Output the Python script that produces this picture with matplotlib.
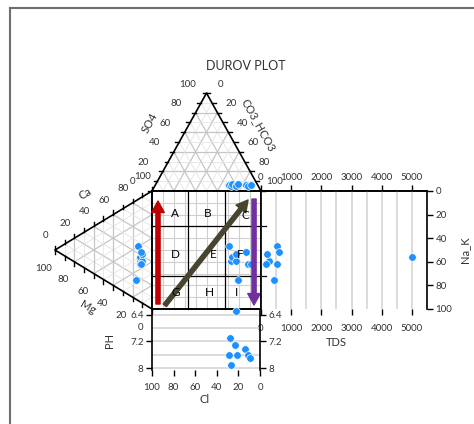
import numpy as np
import matplotlib.pyplot as plt
from matplotlib.lines import Line2D
from matplotlib.ticker import MultipleLocator

plt.rcParams['font.family'] = ['Lato', 'DejaVu Sans']
plt.rcParams['font.size'] = 7
plt.rcParams['xtick.labelcolor'] = '#333333'
plt.rcParams['ytick.labelcolor'] = '#333333'

# sample chemistry, % of meq
ca   = np.array([46, 35, 38, 36, 42, 16, 43, 32, 33])
mg   = np.array([14, 12, 12, 10, 10, 17, 11, 12, 11])
na_k = np.array([40, 53, 50, 54, 48, 67, 46, 56, 56])
so4  = np.array([6, 5, 7, 6, 5, 7, 6, 5, 6])
hco3 = np.array([68, 70, 70, 74, 75, 75, 83, 86, 88])
cl   = np.array([26, 25, 23, 20, 20, 18, 11, 9, 6])
tds  = np.array([530, 280, 5000, 270, 200, 430, 600, 530, 170])
ph   = np.array([7.61, 7.09, 7.91, 7.31, 6.28, 7.61, 7.43, 7.61, 7.70])

# class boundaries inside the square (% along Cl axis / Na_K axis)
class_cl = [100/3, 200/3]
class_nak = [30, 72]
cell_names = ['A', 'B', 'C', 'D', 'E', 'F', 'G', 'H', 'I']
cell_x = [0.21, 0.51, 0.86, 0.21, 0.56, 0.805, 0.214, 0.53, 0.773]
cell_y = [0.81, 0.81, 0.795, 0.465, 0.465, 0.465, 0.137, 0.137, 0.137]

TOP_H = 0.83    # height of anion triangle (square units)
LEFT_W = 0.89   # depth of cation triangle
PT = '#1e90ff'
GRID = '#cfcfcf'
INK = '#333333'


def top_xy(s, h):
    return h + 0.5*s, 1.0 + TOP_H*s


def left_xy(a, m):
    n = 1.0 - a - m
    return -LEFT_W*m, 1.0 - (n + 0.5*m)


fig = plt.figure(figsize=(4.74, 4.24), dpi=100)
cv = fig.add_axes([0, 0, 1, 1])
cv.set_xlim(-152/109, 322/109)
cv.set_ylim(-115/118, 309/118)
cv.axis('off')

# ---- grids (triangles: 20% main, 10% faint; square: 10%)
for i in range(1, 10):
    k = i/10
    col, lw = ('#c6c6c6', 0.9) if i % 2 == 0 else ('#e4e4e4', 0.6)
    for p0, p1 in [(top_xy(k, 0), top_xy(k, 1-k)),
                   (top_xy(0, k), top_xy(1-k, k)),
                   (top_xy(0, 1-k), top_xy(1-k, 0)),
                   (left_xy(k, 0), left_xy(k, 1-k)),
                   (left_xy(0, k), left_xy(1-k, k)),
                   (left_xy(1-k, 0), left_xy(0, 1-k))]:
        cv.plot([p0[0], p1[0]], [p0[1], p1[1]], color=col, lw=lw, zorder=1)
    cv.plot([k, k], [0, 1], color=GRID, lw=0.8, zorder=1)
    cv.plot([0, 1], [k, k], color=GRID, lw=0.8, zorder=1)

# ---- outlines
tri_top = [top_xy(0, 0), top_xy(1, 0), top_xy(0, 1)]
tri_left = [left_xy(1, 0), left_xy(0, 1), left_xy(0, 0)]
for tri in (tri_top, tri_left):
    xs = [p[0] for p in tri] + [tri[0][0]]
    ys = [p[1] for p in tri] + [tri[0][1]]
    cv.plot(xs, ys, color='black', lw=1.2, zorder=3)
cv.plot([0, 1, 1, 0, 0], [0, 0, 1, 1, 0], color='black', lw=1.2, zorder=3)

# ---- edge ticks and labels
tl = 0.035
for k in np.arange(0, 11)/10:
    x, y = top_xy(k, 0)
    cv.plot([x - tl, x], [y, y], color='black', lw=1, zorder=3)
    x, y = top_xy(1-k, k)
    cv.plot([x, x + tl], [y, y], color='black', lw=1, zorder=3)
    x, y = left_xy(k, 1-k)
    cv.plot([x, x], [y, y + tl], color='black', lw=1, zorder=3)
    x, y = left_xy(0, k)
    cv.plot([x, x], [y - tl, y], color='black', lw=1, zorder=3)

for v in range(0, 101, 20):
    k = v/100
    kw = dict(textcoords='offset points', ha='center', va='center',
              fontsize=7, color=INK)
    cv.annotate(str(v), top_xy(k, 0), xytext=(-14, 6.5), **kw)
    cv.annotate(str(v), top_xy(1-k, k), xytext=(10, 6.5), **kw)
    cv.annotate(str(v), left_xy(k, 1-k), xytext=(-6.5, 10.5), **kw)
    cv.annotate(str(v), left_xy(0, k), xytext=(-8, -13), **kw)

cv.text(-0.018, 1.576, 'SO4', rotation=61, ha='center', va='center',
        fontsize=8, color=INK)
cv.text(0.975, 1.56, 'CO3_HCO3', rotation=-61, ha='center', va='center',
        fontsize=8, color=INK)
cv.text(-0.615, 0.975, 'Ca', rotation=31, ha='center', va='center',
        fontsize=8, color=INK)
cv.text(-0.587, 0.017, 'Mg', rotation=-31, ha='center', va='center',
        fontsize=8, color=INK)
cv.text(0.862, 2.059, 'DUROV PLOT', ha='center', va='center',
        fontsize=9, color=INK)

# ---- class lines and cell letters
for c in class_cl:
    cv.plot([c/100, c/100], [0, 1], color='black', lw=0.9, zorder=3)
for c in class_nak:
    cv.plot([0, 1.045], [1 - c/100, 1 - c/100], color='black', lw=0.9, zorder=3)

# ---- samples
frac = lambda a: np.asarray(a)/100.0
tx, ty = top_xy(frac(so4), frac(hco3))
lx, ly = left_xy(frac(ca), frac(mg))
mk = dict(s=30, color=PT, edgecolors='white', linewidths=0.5, zorder=4)
cv.scatter(tx, ty, **mk)
cv.scatter(lx, ly, **mk)
cv.scatter(tx, ly, **mk)

for name, x, y in zip(cell_names, cell_x, cell_y):
    cv.text(x, y, name, ha='center', va='center', fontsize=8.5,
            color='black', zorder=8)

# ---- arrows (annotation)
arrows = [((0.055, 0.042), (0.055, 0.915), '#c00000'),
          ((0.936, 0.932), (0.936, 0.034), '#7030a0'),
          ((0.117, 0.031), (0.881, 0.924), '#48452f')]
for tail, head, col in arrows:
    cv.annotate('', xy=head, xytext=tail,
                arrowprops=dict(arrowstyle='simple,head_length=0.55,head_width=0.6,tail_width=0.2',
                                mutation_scale=15, color=col, shrinkA=0, shrinkB=0),
                zorder=7)

# ---- right panel: TDS vs Na_K
nak_proj = na_k + 0.5*mg
cl_proj = 100 - (hco3 + 0.5*so4)

ax_r = fig.add_axes([261/474, 115/424, 166/474, 118/424])
ax_r.set_facecolor('none')
ax_r.scatter(tds, nak_proj, **mk)
ax_r.set_xlim(0, 5500)
ax_r.set_ylim(100, 0)
ax_r.set_xticks(range(0, 5001, 1000))
ax_r.xaxis.set_minor_locator(MultipleLocator(500))
ax_r.grid(axis='x', which='both', color='#d9d9d9', lw=1.3, zorder=0)
ax_r.set_axisbelow(True)
ax_r.tick_params(axis='x', which='major', length=4, width=1, labelsize=7, pad=7)
ax_r.tick_params(axis='x', which='minor', length=0)
top = ax_r.secondary_xaxis('top')
top.set_xticks(range(0, 5001, 1000))
top.tick_params(axis='x', length=4, width=1, labelsize=7, pad=2.5)
top.spines['top'].set_linewidth(1.2)
ax_r.yaxis.tick_right()
ax_r.set_yticks(range(0, 101, 20))
ax_r.tick_params(axis='y', length=4, width=1, labelsize=7, pad=2)
ax_r.spines['bottom'].set_visible(False)
for sp in ('top', 'right', 'left'):
    ax_r.spines[sp].set_linewidth(1.2)
ax_r.text(1.229, 0.5, 'Na_K', transform=ax_r.transAxes, rotation=90,
          ha='center', va='center', fontsize=8, color=INK)
ax_r.text(0.452, -0.288, 'TDS', transform=ax_r.transAxes,
          ha='center', va='center', fontsize=8, color=INK)

# ---- bottom panel: Cl vs pH
ax_b = fig.add_axes([152/474, 54/424, 108/474, 61/424])
ax_b.set_facecolor('none')
ax_b.scatter(cl_proj, ph, clip_on=False, **mk)
ax_b.set_xlim(100, 0)
ax_b.set_ylim(8.06, 6.22)
ax_b.set_yticks([6.4, 7.2, 8.0])
ax_b.set_yticklabels(['6.4', '7.2', '8'])
ax_b.set_yticks([6.8, 7.6], minor=True)
ax_b.grid(axis='y', which='both', color='#d9d9d9', lw=1.3)
ax_b.set_axisbelow(True)
ax_b.tick_params(axis='y', which='major', left=True, right=True, labelleft=True,
                 labelright=True, length=4, width=1, labelsize=7, pad=2)
ax_b.tick_params(axis='y', which='minor', length=0)
ax_b.set_xticks(range(0, 101, 20))
ax_b.tick_params(axis='x', length=4, width=1, labelsize=7, pad=5.5)
ax_b.spines['bottom'].set_visible(False)
for sp in ('top', 'right', 'left'):
    ax_b.spines[sp].set_linewidth(1.2)
ax_b.text(-0.389, 0.49, 'PH', transform=ax_b.transAxes, rotation=90,
          ha='center', va='center', fontsize=8, color=INK)
ax_b.text(0.49, -0.49, 'Cl', transform=ax_b.transAxes,
          ha='center', va='center', fontsize=8, color=INK)

# screenshot frame
fig.add_artist(Line2D([9.5/474, 9.5/474], [0, 1 - 7.5/424],
                      transform=fig.transFigure, color='#6e6e6e', lw=1.5))
fig.add_artist(Line2D([9.5/474, 1], [1 - 7.5/424, 1 - 7.5/424],
                      transform=fig.transFigure, color='#6e6e6e', lw=1.5))

fig.savefig('out.png', dpi=100)
